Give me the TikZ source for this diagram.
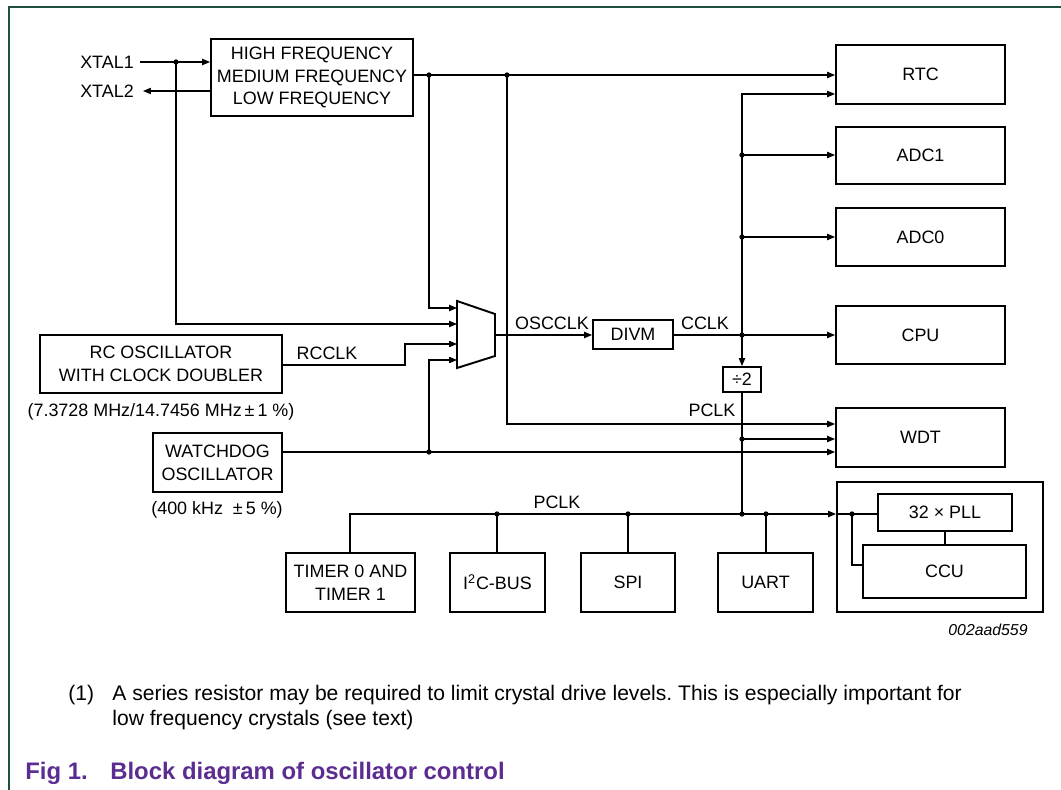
\documentclass[tikz,border=0pt]{standalone}
\usepackage{fontspec}
\setmainfont{Liberation Sans}
\usetikzlibrary{arrows.meta}
\definecolor{framegreen}{RGB}{30,80,60}
\definecolor{figpurple}{RGB}{92,45,145}
\newcommand\blk[6]{\node[box, minimum width={(#4-#2)*0.02cm}, minimum height={(#5-#3)*0.02cm}] (#1) at ({(#2+#4)/2},{(#3+#5)/2}) {#6};}
\frenchspacing
\begin{document}
\begin{tikzpicture}[x=0.02cm,y=-0.02cm,
  box/.style={draw, line width=1.1pt, inner sep=0pt, align=center, font=\fontsize{10.2}{13}\selectfont},
  lbl/.style={inner sep=0pt, font=\fontsize{10.2}{13}\selectfont},
  conn/.style={line width=0.6pt},
  arr/.style={conn, -{Triangle[length=4.5pt,width=3.6pt]}},
  jdot/.style={circle, fill, inner sep=0pt, minimum size=3pt},
  note/.style={anchor=base west, inner sep=0pt, font=\fontsize{12}{14}\selectfont},
  capt/.style={anchor=base west, inner sep=0pt, text=figpurple, font=\fontsize{13.6}{16}\selectfont\bfseries},
]
\useasboundingbox (0,0) rectangle (1061,790);
% frame
\draw[framegreen, line width=0.6pt] (9,790) -- (9,7) -- (1061,7);

% blocks
\blk{osc}{211}{39}{413}{116}{HIGH FREQUENCY\\MEDIUM FREQUENCY\\LOW FREQUENCY}
\blk{rtc}{836}{45}{1005}{104}{RTC}
\blk{adc1}{836}{127}{1005}{184}{ADC1}
\blk{adc0}{836}{208}{1005}{266}{ADC0}
\blk{cpu}{836}{306}{1005}{364}{CPU}
\blk{wdt}{836}{408}{1005}{467}{WDT}
\blk{divm}{593}{320}{673}{349}{DIVM}
\blk{div2}{723}{367}{761}{392}{÷2}
\blk{rc}{40}{335}{282}{393}{RC OSCILLATOR\\WITH CLOCK DOUBLER}
\blk{wd}{153}{433}{282}{492}{WATCHDOG\\OSCILLATOR}
\blk{tmr}{286}{553}{415}{612}{TIMER 0 AND\\TIMER 1}
\blk{iic}{450}{553}{545}{612}{I\textsuperscript{2}C-BUS}
\blk{spi}{581}{553}{675}{612}{SPI}
\blk{uart}{718}{553}{813}{612}{UART}
\blk{outer}{837}{482}{1043}{612}{}
\blk{pll}{878}{494}{1012}{531}{32 × PLL}
\blk{ccu}{863}{545}{1026}{598}{CCU}

% multiplexer
\draw[line width=1.1pt] (457,301) -- (495,314) -- (495,356) -- (457,368) -- cycle;
\coordinate (m1) at (457,308);
\coordinate (m2) at (457,324);
\coordinate (m3) at (457,344);
\coordinate (m4) at (457,360);
\coordinate (mout) at (495,335);

% labels
\node[lbl] (xtal1) at (107,62) {XTAL1};
\node[lbl] (xtal2) at (107,91) {XTAL2};
\node[lbl] (osclk) at (552,323) {OSCCLK};
\node[lbl] (cclk) at (705,323) {CCLK};
\node[lbl] (rcclk) at (327,353) {RCCLK};
\node[lbl] (pclk1) at (712,410) {PCLK};
\node[lbl] (pclk2) at (557,502) {PCLK};
\node[lbl] (rcf) at (161,412) {(7.3728 MHz/14.7456 MHz\,±\,1 \%)};
\node[lbl] (wdf) at (217,510) {(400 kHz\ \ ±\,5 \%)};
\node[lbl, font=\fontsize{9}{11}\selectfont\itshape] (code) at (988,630) {002aad559};

% junction coordinates
\coordinate (x1s) at (140,62);
\coordinate (x2e) at (143,91);
\coordinate (jx) at (176,62);
\coordinate (ja) at (429,75);
\coordinate (jb) at (507,75);
\coordinate (jc) at (742,335);
\coordinate (jd) at (742,155);
\coordinate (je) at (742,237);
\coordinate (jf) at (742,439);
\coordinate (jg) at (742,514);
\coordinate (jw) at (429,452);
\coordinate (jh) at (497,514);
\coordinate (ji) at (628,514);
\coordinate (jj) at (766,514);
\coordinate (jk) at (852,514);

% XTAL connections
\draw[arr] (x1s) -- (osc.west |- x1s);
\draw[arr] (osc.west |- x2e) -- (x2e);
\draw[arr] (osc.east |- ja) -- (rtc.west |- ja);
% mux inputs
\draw[arr] (ja) -- (ja |- m1) -- (m1);
\draw[arr] (jx) -- (jx |- m2) -- (m2);
\draw[arr] (rc.east |- 0,365) -- (405,365) -- (405,344) -- (m3);
\draw[arr] (wd.east |- jw) -- (wdt.west |- jw);
\draw[arr] (jw) -- (jw |- m4) -- (m4);
% mux out, DIVM
\draw[arr] (mout) -- (divm.west |- mout);
\draw[arr] (divm.east |- jc) -- (cpu.west |- jc);
\draw[arr] (jc) -- (div2.north);
\draw[arr] (jc) -- (742,94) -- (rtc.west |- 0,94);
\draw[arr] (jd) -- (adc1.west |- jd);
\draw[arr] (je) -- (adc0.west |- je);
% PCLK
\draw[conn] (div2.south) -- (jg);
\draw[arr] (jf) -- (wdt.west |- jf);
\draw[arr] (jb) -- (jb |- 0,424) -- (wdt.west |- 0,424);
\draw[arr] (tmr.north -| 350,0) -- (350,514) -- (outer.west |- jg);
\draw[conn] (outer.west |- jk) -- (pll.west |- jk);
\draw[conn] (jh) -- (iic.north -| jh);
\draw[conn] (ji) -- (spi.north -| ji);
\draw[conn] (jj) -- (uart.north -| jj);
\draw[conn] (jk) -- (852,565) -- (ccu.west |- 0,565);
\draw[conn] (pll.south -| 945,0) -- (ccu.north -| 945,0);

% dots
\foreach \p in {jx,ja,jb,jc,jd,je,jf,jg,jw,jh,ji,jj,jk}
  \node[jdot] at (\p) {};

% footnote and caption
\node[note] (fn1) at (68,700) {(1)};
\node[note] (fn2) at (112,700) {A series resistor may be required to limit crystal drive levels. This is especially important for};
\node[note] (fn3) at (112,725) {low frequency crystals (see text)};
\node[capt] (fig) at (25,779) {Fig 1.};
\node[capt] (cap) at (110,779) {Block diagram of oscillator control};
\end{tikzpicture}
\end{document}
